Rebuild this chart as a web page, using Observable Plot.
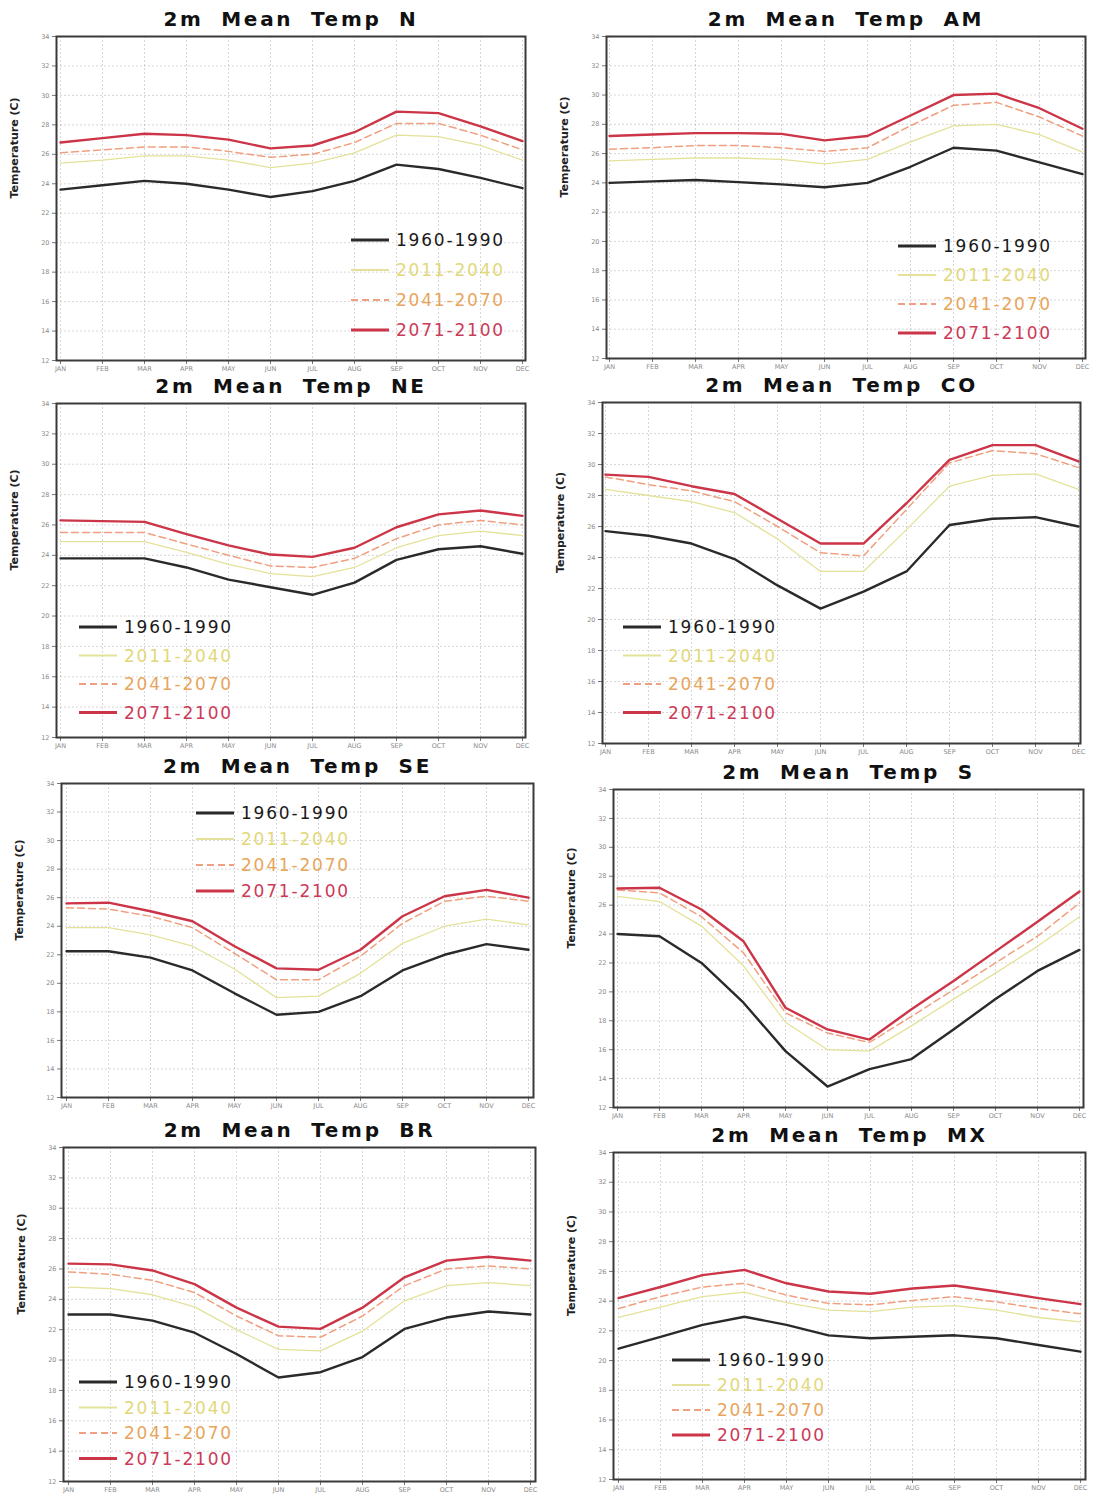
<!DOCTYPE html>
<html>
<head>
<meta charset="utf-8">
<script src="https://cdn.jsdelivr.net/npm/d3@7"></script>
<script src="https://cdn.jsdelivr.net/npm/@observablehq/plot@0.6"></script>
<style>
  html, body { margin: 0; padding: 0; background: #fff; }
  #wrap { position: relative; width: 1096px; height: 1495px; overflow: hidden; background: #fff; }
  .panel { position: absolute; }
</style>
</head>
<body>
<div id="wrap"></div>
<script>
// ---------- data ----------
const months = ["JAN","FEB","MAR","APR","MAY","JUN","JUL","AUG","SEP","OCT","NOV","DEC"];
const yTicks = [12,14,16,18,20,22,24,26,28,30,32,34];
const periods = ["1960-1990","2011-2040","2041-2070","2071-2100"];
const regions = ["N","AM","NE","CO","SE","S","BR","MX"];

const N_1960 = [23.6, 23.9, 24.2, 24.0, 23.6, 23.1, 23.5, 24.2, 25.3, 25.0, 24.4, 23.7];
const N_2011 = [25.4, 25.6, 25.9, 25.9, 25.6, 25.1, 25.4, 26.1, 27.3, 27.2, 26.6, 25.6];
const N_2041 = [26.1, 26.3, 26.5, 26.5, 26.2, 25.8, 26.0, 26.8, 28.1, 28.1, 27.3, 26.3];
const N_2071 = [26.8, 27.1, 27.4, 27.3, 27.0, 26.4, 26.6, 27.5, 28.9, 28.8, 27.9, 26.9];

const AM_1960 = [24.0, 24.1, 24.2, 24.05, 23.9, 23.7, 24.0, 25.1, 26.4, 26.2, 25.4, 24.6];
const AM_2011 = [25.5, 25.6, 25.7, 25.7, 25.6, 25.3, 25.6, 26.8, 27.9, 28.0, 27.3, 26.1];
const AM_2041 = [26.3, 26.4, 26.55, 26.55, 26.4, 26.15, 26.4, 27.9, 29.3, 29.5, 28.5, 27.2];
const AM_2071 = [27.2, 27.3, 27.4, 27.4, 27.35, 26.9, 27.2, 28.6, 30.0, 30.1, 29.1, 27.7];

const NE_1960 = [23.8, 23.8, 23.8, 23.2, 22.4, 21.9, 21.4, 22.2, 23.7, 24.4, 24.6, 24.1];
const NE_2011 = [24.9, 24.9, 24.9, 24.2, 23.4, 22.8, 22.6, 23.2, 24.5, 25.3, 25.6, 25.3];
const NE_2041 = [25.5, 25.5, 25.5, 24.75, 24.0, 23.3, 23.2, 23.8, 25.1, 26.0, 26.3, 26.0];
const NE_2071 = [26.3, 26.25, 26.2, 25.4, 24.65, 24.05, 23.9, 24.5, 25.85, 26.7, 26.95, 26.6];

const CO_1960 = [25.7, 25.4, 24.9, 23.9, 22.2, 20.7, 21.8, 23.1, 26.1, 26.5, 26.6, 26.0];
const CO_2011 = [28.4, 28.0, 27.6, 26.9, 25.2, 23.1, 23.1, 25.8, 28.6, 29.3, 29.4, 28.4];
const CO_2041 = [29.2, 28.7, 28.3, 27.6, 26.0, 24.3, 24.1, 27.1, 30.1, 30.9, 30.7, 29.8];
const CO_2071 = [29.35, 29.2, 28.6, 28.1, 26.5, 24.9, 24.9, 27.5, 30.3, 31.25, 31.25, 30.2];

const SE_1960 = [22.25, 22.25, 21.8, 20.9, 19.3, 17.8, 18.0, 19.1, 20.9, 22.0, 22.75, 22.35];
const SE_2011 = [23.9, 23.9, 23.4, 22.6, 21.0, 19.0, 19.1, 20.7, 22.8, 24.0, 24.5, 24.1];
const SE_2041 = [25.3, 25.2, 24.7, 23.9, 22.1, 20.25, 20.25, 21.9, 24.2, 25.75, 26.1, 25.75];
const SE_2071 = [25.6, 25.65, 25.05, 24.35, 22.6, 21.05, 20.95, 22.35, 24.7, 26.1, 26.55, 26.0];

const S_1960 = [24.0, 23.85, 22.0, 19.25, 15.9, 13.45, 14.65, 15.35, 17.4, 19.5, 21.45, 22.9];
const S_2011 = [26.6, 26.25, 24.55, 21.8, 17.9, 16.0, 15.9, 17.65, 19.5, 21.3, 23.15, 25.2];
const S_2041 = [27.05, 26.85, 25.2, 22.7, 18.55, 17.15, 16.5, 18.3, 20.15, 22.0, 23.85, 26.15];
const S_2071 = [27.15, 27.2, 25.7, 23.5, 18.9, 17.4, 16.7, 18.8, 20.75, 22.8, 24.85, 26.95];

const BR_1960 = [23.0, 23.0, 22.6, 21.8, 20.4, 18.85, 19.2, 20.2, 22.05, 22.8, 23.2, 23.0];
const BR_2011 = [24.8, 24.7, 24.3, 23.5, 22.0, 20.7, 20.6, 21.9, 23.9, 24.9, 25.1, 24.9];
const BR_2041 = [25.8, 25.65, 25.25, 24.45, 22.9, 21.6, 21.5, 22.9, 24.9, 26.0, 26.2, 26.0];
const BR_2071 = [26.35, 26.3, 25.9, 25.0, 23.45, 22.2, 22.05, 23.45, 25.45, 26.55, 26.8, 26.55];

const MX_1960 = [20.8, 21.6, 22.4, 22.95, 22.4, 21.7, 21.5, 21.6, 21.7, 21.5, 21.05, 20.6];
const MX_2011 = [22.9, 23.6, 24.3, 24.6, 23.9, 23.4, 23.3, 23.6, 23.7, 23.4, 22.9, 22.6];
const MX_2041 = [23.5, 24.3, 24.95, 25.2, 24.4, 23.85, 23.75, 24.05, 24.3, 23.95, 23.5, 23.15];
const MX_2071 = [24.2, 24.95, 25.75, 26.1, 25.2, 24.65, 24.5, 24.85, 25.05, 24.65, 24.2, 23.8];

const seriesByRegion = {
  N: [N_1960, N_2011, N_2041, N_2071],
  AM: [AM_1960, AM_2011, AM_2041, AM_2071],
  NE: [NE_1960, NE_2011, NE_2041, NE_2071],
  CO: [CO_1960, CO_2011, CO_2041, CO_2071],
  SE: [SE_1960, SE_2011, SE_2041, SE_2071],
  S: [S_1960, S_2011, S_2041, S_2071],
  BR: [BR_1960, BR_2011, BR_2041, BR_2071],
  MX: [MX_1960, MX_2011, MX_2041, MX_2071]
};

// ---------- styles ----------
const lineStyle = [
  {stroke: "#2a2a2a", strokeWidth: 2.4, dash: null, text: "#1a1a1a"},
  {stroke: "#e4e29a", strokeWidth: 1.3, dash: null, text: "#e2d87a"},
  {stroke: "#f0a080", strokeWidth: 1.5, dash: "7,4", text: "#e8a55c"},
  {stroke: "#cc3548", strokeWidth: 2.4, dash: null, text: "#cc3a58"}
];

// ---------- layout ----------
const layout = {
  N:  {left: 0,   top: 0,    h: 372, ml: 56, mr: 23, mt: 36, mb: 12, legend: {x: 351, y: 240, dy: 30}},
  AM: {left: 548, top: 0,    h: 372, ml: 58, mr: 11, mt: 36, mb: 14, legend: {x: 350, y: 246, dy: 29}},
  NE: {left: 0,   top: 372,  h: 380, ml: 56, mr: 23, mt: 31, mb: 15, legend: {x: 79,  y: 255, dy: 28.5}},
  CO: {left: 548, top: 372,  h: 380, ml: 54, mr: 16, mt: 30, mb: 9,  legend: {x: 75,  y: 255, dy: 28.5}},
  SE: {left: 0,   top: 752,  h: 370, ml: 61, mr: 15, mt: 31, mb: 25, legend: {x: 196, y: 61,  dy: 26}},
  S:  {left: 548, top: 752,  h: 370, ml: 65, mr: 13, mt: 37, mb: 15, legend: null},
  BR: {left: 0,   top: 1122, h: 373, ml: 63, mr: 13, mt: 25, mb: 14, legend: {x: 79,  y: 260, dy: 25.5}},
  MX: {left: 548, top: 1122, h: 373, ml: 65, mr: 11, mt: 30, mb: 16, legend: {x: 124, y: 238, dy: 25}}
};

const wrap = document.getElementById("wrap");

for (const r of regions) {
  const L = layout[r];
  const ser = seriesByRegion[r];
  const lineMarks = periods.map((p, i) => {
    const rows = ser[i].map((v, j) => ({month: months[j], value: v}));
    const st = lineStyle[i];
    return Plot.line(rows, {
      x: "month", y: "value",
      stroke: st.stroke, strokeWidth: st.strokeWidth,
      strokeDasharray: st.dash || undefined,
      strokeLinejoin: "round"
    });
  });

  const titleText = "2m Mean Temp " + r;
  const svg = Plot.plot({
    width: 548, height: L.h,
    marginTop: L.mt, marginBottom: L.mb, marginLeft: L.ml, marginRight: L.mr,
    style: {background: "transparent", fontFamily: "DejaVu Sans", overflow: "visible"},
    x: {type: "point", domain: months, padding: 0},
    y: {domain: [12, 34]},
    marks: [
      Plot.gridX(months, {stroke: "#9a9a9a", strokeOpacity: 0.4, strokeDasharray: "2,2"}),
      Plot.gridY(yTicks, {stroke: "#9a9a9a", strokeOpacity: 0.4, strokeDasharray: "2,2"}),
      Plot.axisX(months, {tickSize: 4, tickPadding: 2, fontSize: 6.5, fill: "#8a8a8a", stroke: "#777", label: null}),
      Plot.axisY(yTicks, {tickSize: 4, tickPadding: 3, fontSize: 6.5, fill: "#8a8a8a", stroke: "#777", label: null}),
      ...lineMarks,
      Plot.frame({stroke: "#3a3a3a", strokeWidth: 2}),
      Plot.text([titleText], {frameAnchor: "top", lineAnchor: "middle", dy: -17, fontSize: 20, fontWeight: "bold", fill: "#111"}),
      Plot.text(["Temperature (C)"], {frameAnchor: "left", rotate: -90, dx: -42, fontSize: 11, fontWeight: "bold", fill: "#222"})
    ]
  });

  d3.select(svg).selectAll("text")
    .filter(function() { return this.textContent === titleText; })
    .style("letter-spacing", "2.7px").style("word-spacing", "8px");

  if (L.legend) {
    const g = d3.select(svg).append("g").attr("class", "legend").attr("text-anchor", "start");
    periods.forEach((p, i) => {
      const st = lineStyle[i];
      const y = L.legend.y + i * L.legend.dy;
      g.append("line")
        .attr("x1", L.legend.x).attr("x2", L.legend.x + 38)
        .attr("y1", y).attr("y2", y)
        .attr("stroke", st.stroke)
        .attr("stroke-width", i === 0 || i === 3 ? 3 : 1.8)
        .attr("stroke-dasharray", st.dash);
      g.append("text")
        .attr("x", L.legend.x + 45).attr("y", y)
        .attr("dy", "0.36em")
        .attr("text-anchor", "start")
        .attr("fill", st.text)
        .style("font-family", "DejaVu Sans")
        .style("font-size", "17px")
        .style("letter-spacing", "1.8px")
        .text(p);
    });
  }

  const div = document.createElement("div");
  div.className = "panel";
  div.style.left = L.left + "px";
  div.style.top = L.top + "px";
  div.appendChild(svg);
  wrap.appendChild(div);
}
</script>
</body>
</html>
